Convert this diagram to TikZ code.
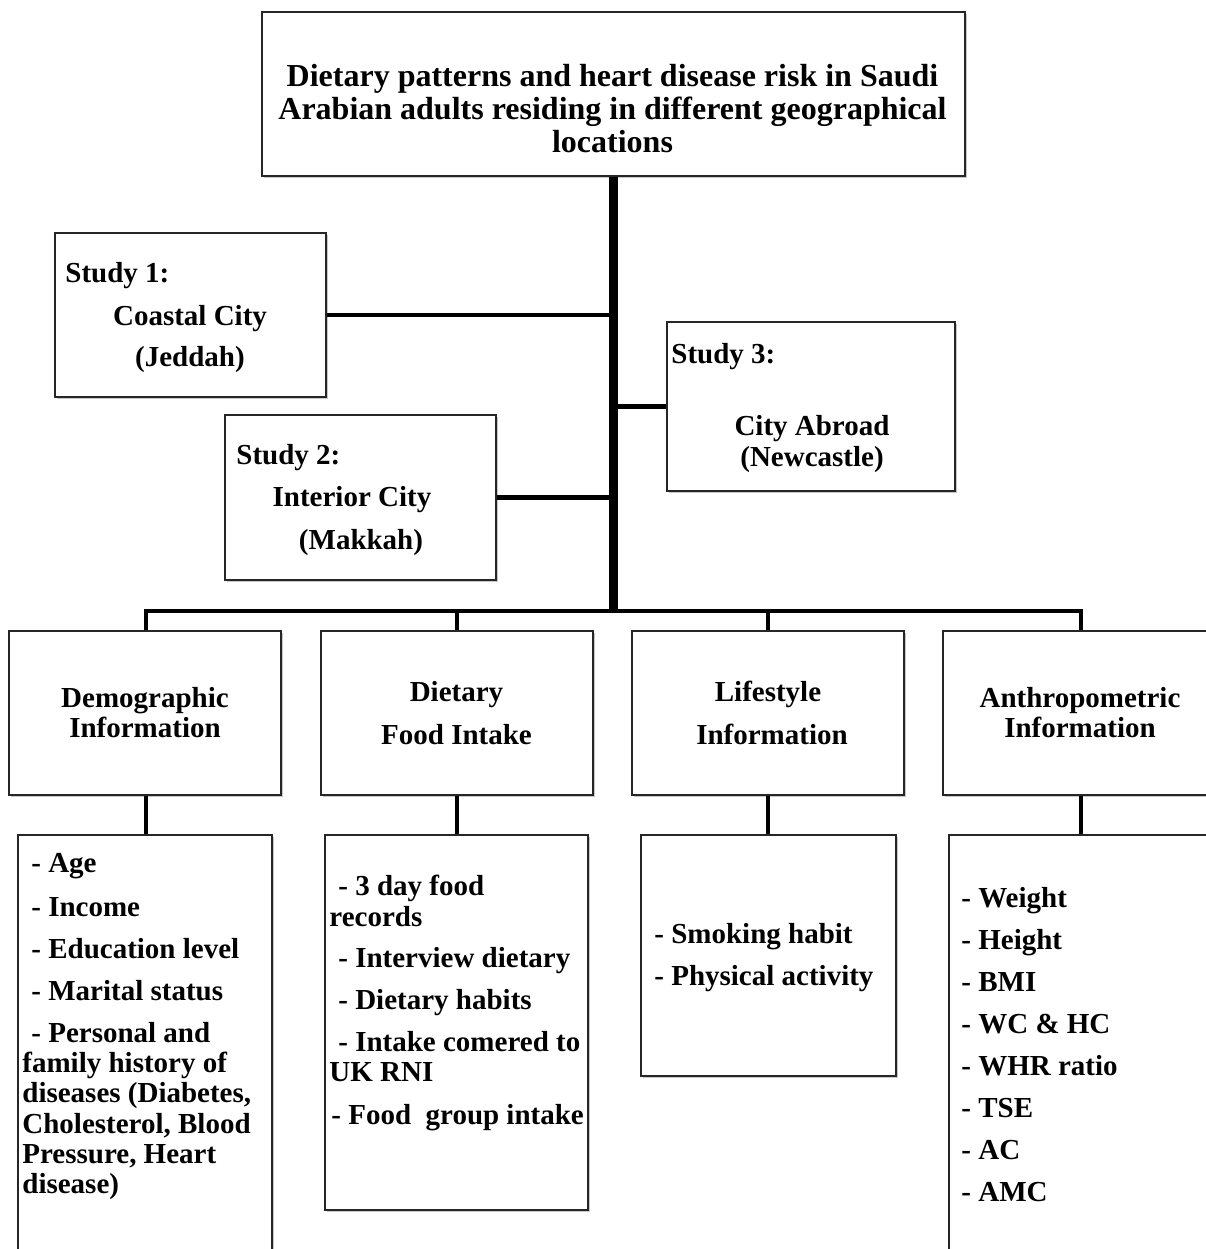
\documentclass[tikz,border=0pt]{standalone}
\usepackage{fontspec}
\setmainfont{Liberation Serif}
\usetikzlibrary{fit,shadows}
\begin{document}
\begin{tikzpicture}[x=0.5pt,y=-0.5pt,
  box/.style={draw=black!85, line width=1pt, fill=white, inner sep=0pt,
    drop shadow={shadow xshift=0.9pt, shadow yshift=-0.9pt, fill=black, opacity=0.22}},
  txt/.style={inner sep=0pt, font=\fontsize{14.5}{15}\selectfont\bfseries},
  ttl/.style={inner sep=0pt, font=\fontsize{16}{16.5}\selectfont\bfseries},
  trunk/.style={line width=4.5pt, line cap=butt},
  conn/.style={line width=2.4pt, line join=miter}]
\useasboundingbox (0,0) rectangle (1206,1249);
\newcommand\bx[5]{\node[box, fit={(#2,#3) (#4,#5)}] (#1) {};}
\newcommand\tl[4]{\node[txt, anchor=base west] (#1) at (#2,#3) {#4};}
\newcommand\tc[4]{\node[txt, anchor=base] (#1) at (#2,#3) {#4};}
% boxes
\bx{title}{262}{12}{965}{176}
\bx{s1}{55}{233}{326}{397}
\bx{s2}{225}{415}{496}{580}
\bx{s3}{667}{322}{955}{491}
\bx{c1}{9}{631}{281}{795}
\bx{c2}{321}{631}{593}{795}
\bx{c3}{632}{631}{904}{795}
\bx{c4}{943}{631}{1230}{795}
\bx{l1}{18}{835}{272}{1280}
\bx{l2}{325}{835}{588}{1210}
\bx{l3}{641}{835}{896}{1076}
\bx{l4}{949}{835}{1230}{1280}
% connectors
\coordinate (bus) at (613.5,611);
\draw[conn] (c1.north -| 146,0) |- (bus) -| (c4.north -| 1081,0);
\draw[conn] (c2.north) -- (c2.north |- bus);
\draw[conn] (c3.north) -- (c3.north |- bus);
\draw[trunk] (title.south) -- ([yshift=-1.2pt]bus);
\draw[conn] (s1.east) -- (s1.east -| title.south);
\draw[conn] (s2.east) -- (s2.east -| title.south);
\draw[conn] (s3.west) -- (s3.west -| title.south);
\draw[conn] (c1.south -| 146,0) -- (l1.north -| 146,0);
\draw[conn] (c2.south) -- (c2.south |- l2.north);
\draw[conn] (c3.south) -- (c3.south |- l3.north);
\draw[conn] (c4.south -| 1081,0) -- (l4.north -| 1081,0);
% title
\node[ttl, anchor=base] (tt1) at (612.5,86) {Dietary patterns and heart disease risk in Saudi};
\node[ttl, anchor=base] (tt2) at (612.5,119) {Arabian adults residing in different geographical};
\node[ttl, anchor=base] (tt3) at (612.5,152) {locations};
% studies
\tl{a1}{65}{282}{Study 1:}
\tc{a2}{190}{325}{Coastal City}
\tc{a3}{190}{366}{(Jeddah)}
\tl{b1}{236}{464}{Study 2:}
\tc{b2}{352}{506}{Interior City}
\tc{b3}{361}{549}{(Makkah)}
\tl{d1}{671}{363}{Study 3:}
\tc{d2}{812}{435}{City Abroad}
\tc{d3}{812}{466}{(Newcastle)}
% categories
\tc{e1}{145}{707}{Demographic}
\tc{e2}{145}{737}{Information}
\tc{f1}{456.5}{701}{Dietary}
\tc{f2}{456.5}{744}{Food Intake}
\tc{g1}{768}{701}{Lifestyle}
\tc{g2}{772}{744}{Information}
\tc{h1}{1080}{707}{Anthropometric}
\tc{h2}{1080}{737}{Information}
% list 1
\tl{p1}{31}{872}{- Age}
\tl{p2}{31}{916}{- Income}
\tl{p3}{31}{958}{- Education level}
\tl{p4}{31}{1000}{- Marital status}
\tl{p5}{31}{1042}{- Personal and}
\tl{p6}{22}{1072}{family history of}
\tl{p7}{22}{1102}{diseases (Diabetes,}
\tl{p8}{22}{1133}{Cholesterol, Blood}
\tl{p9}{22}{1163}{Pressure, Heart}
\tl{p10}{22}{1193}{disease)}
% list 2
\tl{q1}{338}{895}{- 3 day food}
\tl{q2}{329}{926}{records}
\tl{q3}{338}{967}{- Interview dietary}
\tl{q4}{338}{1009}{- Dietary habits}
\tl{q5}{338}{1051}{- Intake comered to}
\tl{q6}{329}{1081}{UK RNI}
\tl{q7}{331}{1124}{- Food\ \ group intake}
% list 3
\tl{r1}{654}{943}{- Smoking habit}
\tl{r2}{654}{985}{- Physical activity}
% list 4
\tl{u1}{961}{907}{- Weight}
\tl{u2}{961}{949}{- Height}
\tl{u3}{961}{991}{- BMI}
\tl{u4}{961}{1033}{- WC \& HC}
\tl{u5}{961}{1075}{- WHR ratio}
\tl{u6}{961}{1117}{- TSE}
\tl{u7}{961}{1159}{- AC}
\tl{u8}{961}{1201}{- AMC}
\end{tikzpicture}
\end{document}
